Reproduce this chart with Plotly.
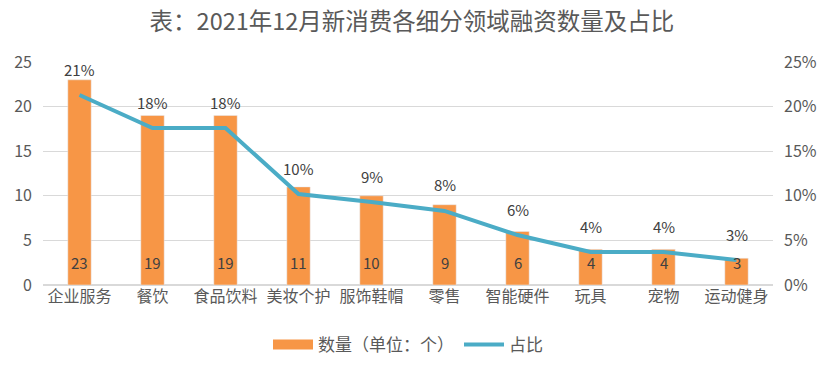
import plotly.graph_objects as go

categories = ["企业服务", "餐饮", "食品饮料", "美妆个护", "服饰鞋帽", "零售", "智能硬件", "玩具", "宠物", "运动健身"]
counts = [23, 19, 19, 11, 10, 9, 6, 4, 4, 3]
shares = [0.213, 0.176, 0.176, 0.102, 0.093, 0.083, 0.056, 0.037, 0.037, 0.028]
share_labels = ["21%", "18%", "18%", "10%", "9%", "8%", "6%", "4%", "4%", "3%"]

FONT = "Noto Sans CJK SC, Noto Sans, sans-serif"
TXT = "#595959"
ORANGE = "#F79646"
BLUE = "#4BACC6"

fig = go.Figure()
fig.add_trace(go.Bar(
    x=categories, y=counts, name="数量（单位：个）",
    marker_color=ORANGE, width=0.32, showlegend=False, hoverinfo="skip",
))
# legend-only entry drawn as a wide rectangle like the reference
fig.add_trace(go.Scatter(
    x=[None], y=[None], name="数量（单位：个）", mode="lines",
    line=dict(color=ORANGE, width=10), hoverinfo="skip",
))
fig.add_trace(go.Scatter(
    x=categories, y=shares, name="占比", yaxis="y2",
    mode="lines", line=dict(color=BLUE, width=4), hoverinfo="skip",
))
for c, v in zip(categories, counts):
    fig.add_annotation(x=c, y=0, text=str(v), showarrow=False, yshift=23,
                       font=dict(size=15, color="#404040", family=FONT))
for c, s, lab in zip(categories, shares, share_labels):
    fig.add_annotation(x=c, y=s, yref="y2", text=lab, showarrow=False,
                       yshift=26, font=dict(size=15, color="#404040", family=FONT))

fig.update_layout(
    width=824, height=369,
    margin=dict(l=43, r=51, t=62, b=84),
    paper_bgcolor="white", plot_bgcolor="white",
    font=dict(family=FONT, color=TXT, size=16),
    title=dict(text="表：2021年12月新消费各细分领域融资数量及占比", x=0.5, xanchor="center",
               y=1 - 22 / 369, yanchor="middle", font=dict(size=23.5, color=TXT, family=FONT)),
    xaxis=dict(showgrid=False, tickfont=dict(size=16, color=TXT), showline=False, ticks="",
               automargin=False),
    yaxis=dict(range=[0, 25], dtick=5, showgrid=True, gridcolor="#D9D9D9", gridwidth=1,
               zeroline=True, zerolinecolor="#D9D9D9", zerolinewidth=1.5,
               tickfont=dict(size=16, color=TXT), ticks="", ticklabelstandoff=10,
               automargin=False),
    yaxis2=dict(range=[0, 0.25], dtick=0.05, tickformat=".0%", overlaying="y", side="right",
                showgrid=False, zeroline=False, tickfont=dict(size=16, color=TXT), ticks="",
                ticklabelstandoff=10, automargin=False),
    legend=dict(orientation="h", x=0.5, xanchor="center", yref="container",
                y=(369 - 345) / 369, yanchor="middle",
                font=dict(size=17, color=TXT), traceorder="normal", itemwidth=40),
    showlegend=True,
    hovermode=False,
)

fig.write_html("out.html", config={"displayModeBar": False},
               post_script="document.body.style.margin='0px';")
